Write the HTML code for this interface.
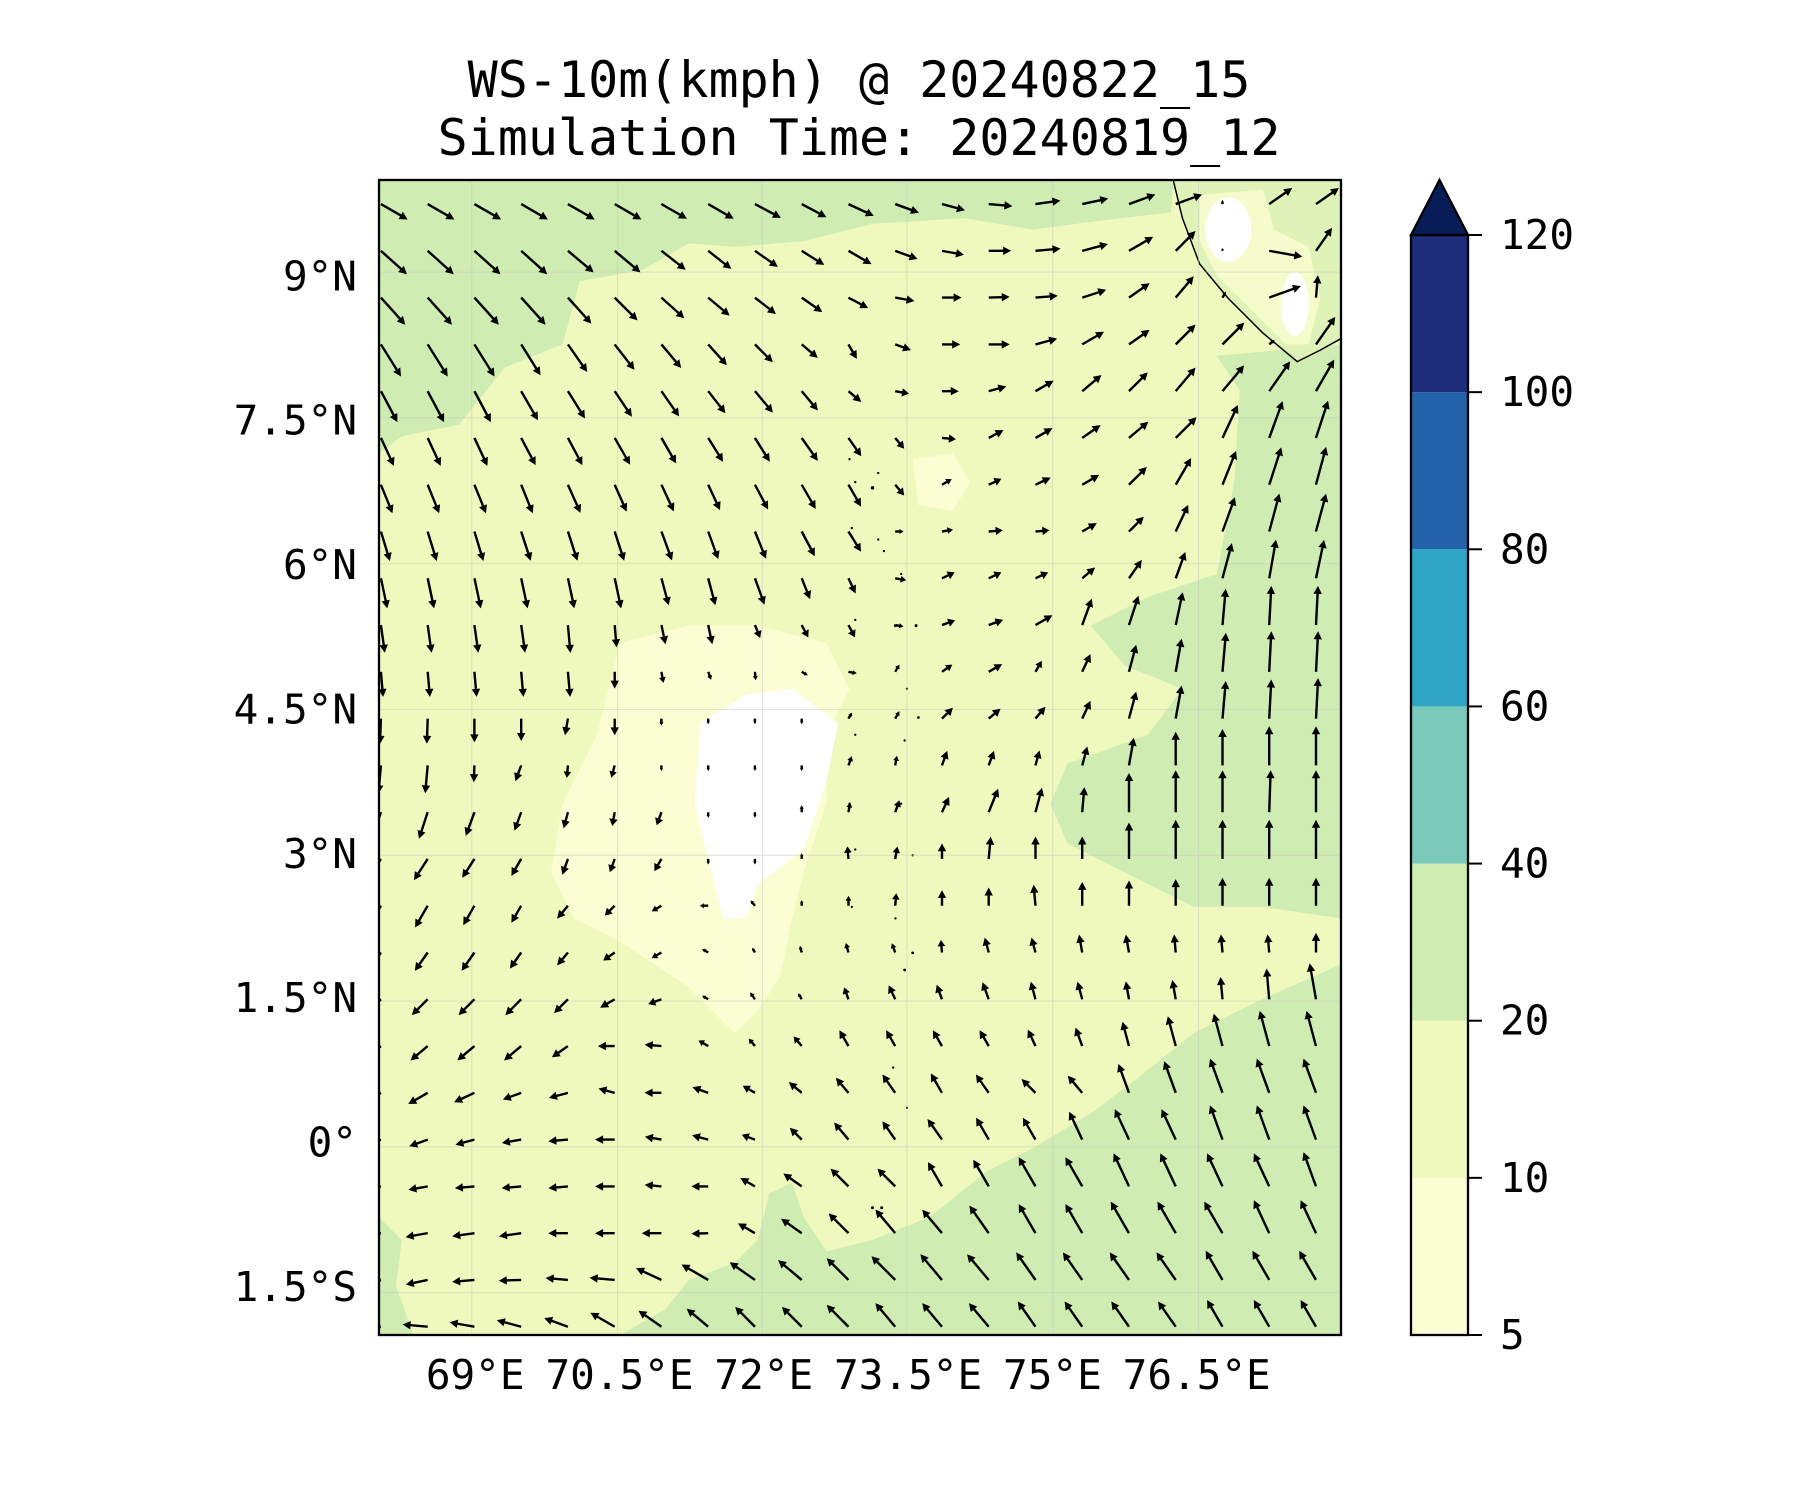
<!DOCTYPE html>
<html><head><meta charset="utf-8"><style>
body{margin:0;background:#fff}
svg{display:block}
text{font-family:"DejaVu Sans Mono","Liberation Mono",monospace;fill:#000}
</style></head><body>
<svg id="chart" width="1800" height="1500" viewBox="0 0 1800 1500" xmlns="http://www.w3.org/2000/svg">
<defs><clipPath id="mapclip"><rect x="379" y="180" width="962" height="1155"/></clipPath></defs>
<text x="859" y="97" font-size="50" text-anchor="middle">WS-10m(kmph) @ 20240822_15</text>
<text x="859" y="155" font-size="50" text-anchor="middle">Simulation Time: 20240819_12</text>
<g clip-path="url(#mapclip)">
 <rect x="379" y="180" width="962" height="1155" fill="#eff9be"/>
 <g transform="scale(1.148)">
  <path d="M330,157 L1022,157 L1020,185 L960,192 L900,200 L840,190 L760,195 L700,210 L640,215 L600,212 L560,235 L505,245 L490,300 L440,320 L420,345 L400,370 L350,380 L330,395 Z" fill="#cfecb3"/>
  <path d="M1060,310 L1168,300 L1168,800 L1100,790 L1040,790 L1000,770 L930,735 L915,700 L930,665 L1000,640 L1030,600 L980,580 L950,545 L1000,520 L1060,500 L1075,420 L1080,340 Z" fill="#cfecb3"/>
  <path d="M1168,840 L1100,870 L1040,900 L990,940 L950,970 L900,1000 L860,1020 L810,1060 L760,1080 L720,1090 L700,1060 L690,1030 L670,1040 L660,1080 L640,1100 L600,1115 L580,1140 L540,1163 L1168,1163 Z" fill="#cfecb3"/>
  <path d="M330,1060 L350,1080 L345,1120 L360,1163 L330,1163 Z" fill="#cfecb3"/>
  <path d="M540,560 L600,545 L660,545 L720,560 L740,600 L720,640 L720,700 L700,760 L690,800 L680,850 L660,880 L640,900 L620,880 L600,860 L540,820 L500,800 L480,760 L490,700 L520,640 L530,600 Z" fill="#fbfdd3"/>
  <path d="M795,400 L830,395 L845,420 L830,445 L800,440 Z" fill="#fbfdd3"/>
  <path d="M610,630 L650,605 L690,600 L730,630 L720,680 L700,740 L660,770 L650,800 L630,800 L620,760 L605,700 Z" fill="#ffffff"/>
  <path d="M1022,157 L1168,157 L1168,295 L1150,305 L1130,315 L1100,290 L1070,260 L1045,230 L1030,190 Z" fill="#dff2b8"/>
  <path d="M1045,170 L1100,165 L1110,200 L1140,215 L1150,260 L1140,300 L1120,300 L1090,270 L1060,240 L1045,210 Z" fill="#f5fbcb"/>
  <ellipse cx="1070" cy="200" rx="20" ry="28" fill="#fff"/>
  <ellipse cx="1128" cy="265" rx="12" ry="28" fill="#fff"/>
  <path d="M1022,157 L1030,190 L1045,230 L1070,260 L1100,290 L1130,315 L1150,305 L1168,295" fill="none" stroke="#000" stroke-width="1.3"/>
  <g fill="#000">
   <circle cx="740" cy="400" r="1"/><circle cx="745" cy="420" r="1"/><circle cx="760" cy="425" r="1.5"/><circle cx="765" cy="412" r="1"/><circle cx="742" cy="460" r="1"/><circle cx="765" cy="470" r="1"/><circle cx="770" cy="480" r="1"/><circle cx="785" cy="500" r="1"/><circle cx="745" cy="540" r="1"/><circle cx="780" cy="545" r="1.3"/><circle cx="798" cy="545" r="1.3"/><circle cx="790" cy="600" r="1"/><circle cx="800" cy="625" r="1.2"/><circle cx="788" cy="645" r="1"/><circle cx="745" cy="640" r="1"/><circle cx="740" cy="700" r="1"/><circle cx="745" cy="740" r="1"/><circle cx="785" cy="700" r="1"/><circle cx="795" cy="745" r="1"/><circle cx="742" cy="790" r="1"/><circle cx="780" cy="800" r="1"/><circle cx="795" cy="830" r="1.2"/><circle cx="788" cy="845" r="1.2"/><circle cx="778" cy="930" r="1"/><circle cx="790" cy="965" r="1"/><circle cx="770" cy="980" r="1"/><circle cx="760" cy="1052" r="1.3"/><circle cx="768" cy="1052" r="1.3"/>
  </g>
  <g stroke="#c8ccc0" stroke-width="0.8" opacity="0.6">
   <line x1="411" y1="157" x2="411" y2="1163"/><line x1="538" y1="157" x2="538" y2="1163"/><line x1="664" y1="157" x2="664" y2="1163"/><line x1="790" y1="157" x2="790" y2="1163"/><line x1="917" y1="157" x2="917" y2="1163"/><line x1="1044" y1="157" x2="1044" y2="1163"/>
   <line x1="330" y1="237" x2="1168" y2="237"/><line x1="330" y1="364" x2="1168" y2="364"/><line x1="330" y1="491" x2="1168" y2="491"/><line x1="330" y1="618" x2="1168" y2="618"/><line x1="330" y1="745" x2="1168" y2="745"/><line x1="330" y1="872" x2="1168" y2="872"/><line x1="330" y1="999" x2="1168" y2="999"/><line x1="330" y1="1126" x2="1168" y2="1126"/>
  </g>
 </g>
 <g id="arrows"></g>
</g>
<rect x="379" y="180" width="962" height="1155" fill="none" stroke="#000" stroke-width="2.3"/>
<g id="xticks"></g>
<g id="yticks"></g>
<g id="cbar"></g>
<script>
const lonTicks=[69,70.5,72,73.5,75,76.5];
const lonLabels=["69°E","70.5°E","72°E","73.5°E","75°E","76.5°E"];
const latTicks=[9,7.5,6,4.5,3,1.5,0,-1.5];
const latLabels=["9°N","7.5°N","6°N","4.5°N","3°N","1.5°N","0°","1.5°S"];
const cbarLevels=[5,10,20,40,60,80,100,120];
const cbarColors=["#fbfdd3","#eff9be","#cfecb3","#7bc9bb","#2fa4c5","#2262a8","#1e2d7c"];
const gridLon0=68.02, gridLat0=9.75, gridStep=0.486;
const windDir=[
[120,120,120,120,120,120,120,120,118,118,115,110,105,95,82,78,70,70,0,55,55],
[132,132,132,132,130,130,128,128,125,122,120,110,100,90,85,75,60,45,0,100,35],
[138,138,138,138,138,135,132,130,128,125,118,100,90,88,85,72,55,40,30,70,5],
[148,148,148,148,145,142,140,138,135,130,150,110,90,90,75,60,55,45,45,50,35],
[152,152,152,150,148,146,145,142,140,140,130,100,90,75,60,50,45,40,40,35,30],
[155,155,155,152,152,150,150,148,148,145,145,140,95,62,60,55,50,45,25,20,18],
[158,158,158,158,156,156,155,155,152,150,150,140,60,65,65,60,45,30,22,18,15],
[163,163,163,162,162,162,160,160,158,152,148,90,80,85,85,60,45,25,20,15,15],
[168,168,168,168,168,168,165,165,160,158,155,100,65,65,65,50,35,20,15,10,12],
[172,172,172,172,175,175,168,168,158,152,152,100,70,70,60,20,18,12,5,3,3],
[175,175,175,175,175,180,170,160,175,120,100,30,55,60,30,25,15,10,5,3,3],
[182,182,180,180,190,180,180,180,180,180,30,30,45,50,40,25,15,10,5,3,3],
[185,185,182,200,185,195,180,180,180,180,20,10,20,20,15,15,10,0,0,0,0],
[198,198,200,200,195,190,200,180,180,0,10,20,25,22,15,5,0,0,0,2,0],
[213,213,213,210,200,200,210,180,180,0,355,10,0,5,0,0,0,0,0,0,0],
[210,210,210,210,220,225,240,270,320,0,0,5,0,0,355,0,0,0,0,0,0],
[215,215,215,215,220,235,240,300,330,345,345,340,355,345,345,350,350,355,355,355,0],
[225,225,225,225,225,240,250,300,325,330,340,335,340,340,345,345,350,350,355,355,350],
[230,230,230,230,235,270,275,300,320,320,330,330,330,330,335,340,345,345,345,345,345],
[240,240,245,250,255,285,270,290,300,310,320,325,330,325,315,320,340,340,340,340,340],
[250,250,255,260,265,270,280,285,290,315,320,325,325,330,330,335,335,335,340,340,340],
[260,260,265,265,265,270,275,270,300,305,315,315,330,330,330,330,335,335,335,335,340],
[260,260,262,262,270,270,270,268,300,305,315,320,320,325,330,330,330,330,330,335,335],
[258,258,265,268,275,275,295,300,305,310,315,315,320,320,325,325,325,325,330,330,330],
[270,275,280,285,290,300,305,310,315,315,315,320,320,320,325,325,325,325,330,330,330]];
const windSpd=[
[22,22,22,22,22,22,21,21,21,20,20,18,17,17,18,19,20,20,3,20,20],
[25,25,25,25,24,24,22,21,20,19,19,17,16,16,18,19,20,20,2,24,20],
[26,26,26,26,25,23,22,20,19,18,16,14,14,15,16,18,18,20,5,24,16],
[27,27,27,26,24,23,22,20,18,15,12,12,13,15,16,18,18,20,22,5,24],
[25,25,25,24,23,22,22,20,20,18,12,10,12,13,15,18,19,22,24,26,26],
[22,22,22,22,22,22,21,20,20,20,16,10,10,12,14,16,18,21,26,28,28],
[22,22,22,22,22,21,21,20,20,20,18,10,8,10,12,14,18,22,26,28,28],
[22,22,22,22,22,22,22,21,21,20,17,6,8,10,10,12,15,21,26,28,28],
[22,22,22,22,22,22,20,20,20,16,12,8,10,10,10,12,16,20,26,28,28],
[20,20,20,20,20,16,14,14,10,10,10,6,10,11,14,20,22,24,26,28,28],
[18,18,18,18,18,12,8,6,6,5,6,6,9,11,9,14,20,24,28,29,29],
[18,18,17,16,12,12,5,4,4,4,5,6,11,11,11,14,20,24,27,28,29],
[20,20,12,12,9,9,4,4,4,4,7,7,11,11,11,14,20,24,26,28,28],
[20,20,18,14,12,10,10,4,4,5,7,9,12,18,18,18,28,30,30,30,30],
[18,18,16,14,12,10,10,4,4,4,9,9,11,16,16,16,26,28,28,28,28],
[18,18,16,14,12,10,8,6,5,4,7,9,11,13,15,17,18,19,20,20,20],
[16,16,16,14,12,10,8,5,4,5,7,7,9,11,11,13,13,13,13,13,14],
[16,16,16,16,14,12,10,5,6,5,9,11,11,13,13,13,13,14,16,22,26],
[16,16,16,16,14,12,12,8,7,9,13,13,13,13,13,14,18,22,24,26,26],
[16,16,16,14,14,12,12,12,10,12,14,16,16,16,14,16,22,24,26,26,26],
[14,14,14,14,14,14,12,12,10,12,16,16,18,18,18,22,24,24,26,26,26],
[14,14,14,14,14,14,12,12,12,16,18,18,20,22,24,24,26,26,26,26,26],
[16,16,16,16,14,14,14,12,14,18,20,22,22,24,24,24,26,26,26,26,26],
[16,16,16,16,16,18,20,22,22,22,22,24,24,24,24,24,24,24,24,24,24],
[18,18,18,18,18,20,20,20,20,20,22,22,22,22,22,22,22,22,22,22,22]];
const NS="http://www.w3.org/2000/svg";
const X0=379,Y0=180,W=962,H=1155,LONMIN=68,LONMAX=78,LATMIN=-2,LATMAX=10;
function xScale(lon){return X0+(lon-LONMIN)/(LONMAX-LONMIN)*W;}
function yScale(lat){return Y0+(LATMAX-lat)/(LATMAX-LATMIN)*H;}
const CB_X=1411,CB_W=57,CB_TOP=235,CB_BOT=1335;
function cbY(i){return CB_BOT-i*(CB_BOT-CB_TOP)/(cbarLevels.length-1);}
function mk(tag,attrs){const e=document.createElementNS(NS,tag);for(const k in attrs)e.setAttribute(k,attrs[k]);return e;}
const ag=document.getElementById('arrows');
const LSCALE=1.4;
windDir.forEach((row,j)=>{row.forEach((b,i)=>{
 const s=windSpd[j][i];const L=s*LSCALE;
 const x=xScale(gridLon0+i*gridStep),y=yScale(gridLat0-j*gridStep);
 const r=b*Math.PI/180,dx=Math.sin(r),dy=-Math.cos(r),px=-dy,py=dx;
 const hl=Math.min(8,L*0.5),hw=Math.min(4.2,L*0.3),sw=1.2;
 const bx=x+dx*(L-hl),by=y+dy*(L-hl),tx=x+dx*L,ty=y+dy*L;
 const pts=[[x+px*sw,y+py*sw],[bx+px*sw,by+py*sw],[bx+px*hw,by+py*hw],[tx,ty],[bx-px*hw,by-py*hw],[bx-px*sw,by-py*sw],[x-px*sw,y-py*sw]];
 const p=mk('polygon',{points:pts.map(q=>q[0].toFixed(1)+','+q[1].toFixed(1)).join(' '),fill:'#000'});
 
 
 ag.appendChild(p);
});});
const xg=document.getElementById('xticks');
lonTicks.forEach((v,i)=>{const t=mk('text',{x:xScale(v),y:1389,'font-size':41,'text-anchor':'middle'});t.textContent=lonLabels[i];
 
 
 xg.appendChild(t);});
const yg=document.getElementById('yticks');
latTicks.forEach((v,i)=>{const t=mk('text',{x:357,y:yScale(v)+14,'font-size':41,'text-anchor':'end'});t.textContent=latLabels[i];
 
 
 yg.appendChild(t);});
const cg=document.getElementById('cbar');
cbarColors.forEach((c,i)=>{const r=mk('rect',{x:CB_X,y:cbY(i+1),width:CB_W,height:cbY(i)-cbY(i+1),fill:c});
 
 
 cg.appendChild(r);});
const tri=mk('polygon',{points:`${CB_X},${CB_TOP} ${CB_X+CB_W/2},180 ${CB_X+CB_W},${CB_TOP}`,fill:'#081d58',stroke:'#000','stroke-width':2.3});


cg.appendChild(tri);
const fr=mk('rect',{x:CB_X,y:CB_TOP,width:CB_W,height:CB_BOT-CB_TOP,fill:'none',stroke:'#000','stroke-width':2.3});


cg.appendChild(fr);
cbarLevels.forEach((v,i)=>{const y=cbY(i);
 const l=mk('line',{x1:CB_X+CB_W,x2:CB_X+CB_W+14,y1:y,y2:y,stroke:'#000','stroke-width':2});
 
 
 cg.appendChild(l);
 const t=mk('text',{x:1500,y:y+14,'font-size':41});t.textContent=v;
 
 
 cg.appendChild(t);});
</script>
</svg>
</body></html>
